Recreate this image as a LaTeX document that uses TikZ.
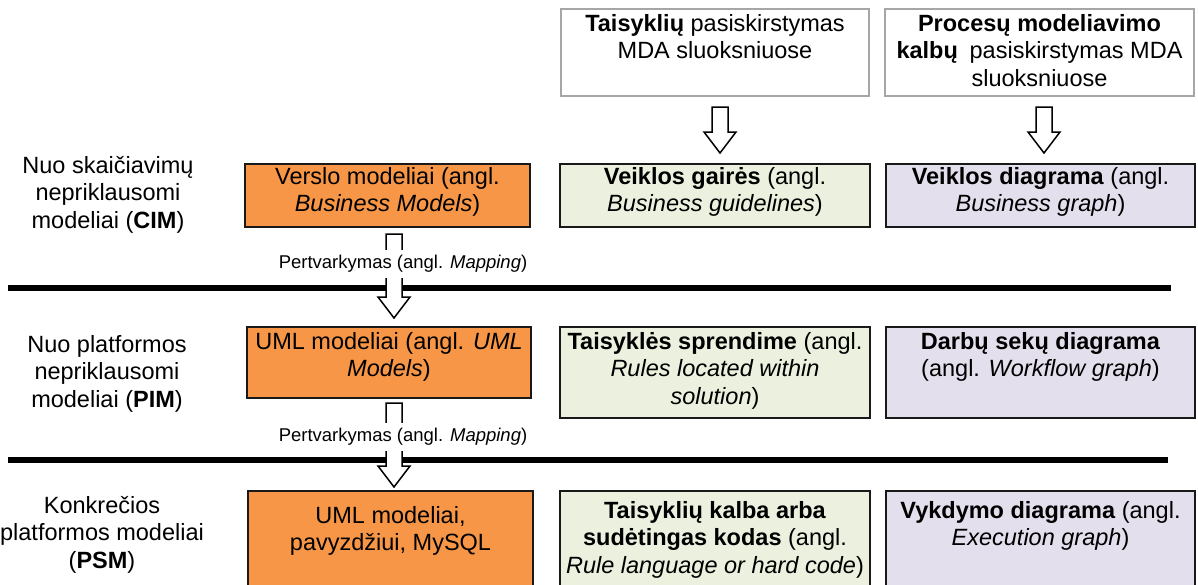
\documentclass[tikz,border=0pt]{standalone}
\usepackage{fontspec}
\setmainfont{Liberation Sans}
\usetikzlibrary{calc}

\definecolor{modelorange}{HTML}{F79646}
\definecolor{rulegreen}{HTML}{EBF1DE}
\definecolor{graphlilac}{HTML}{E4DFEC}
\definecolor{framegray}{HTML}{A6A6A6}

% hollow block arrow pointing down, from a start coordinate to a tip coordinate
\newcommand\blockdown[2]{%
  \draw[hollowarrow] let \p1=(#1), \p2=(#2) in
    (\x1-8pt,\y1) -- (\x1+8pt,\y1) -- (\x1+8pt,\y2+21pt) -- (\x1+16pt,\y2+21pt)
    -- (\x1,\y2) -- (\x1-16pt,\y2+21pt) -- (\x1-8pt,\y2+21pt) -- cycle;}

\begin{document}
\begin{tikzpicture}[x=1pt,y=-1pt,
  font=\fontsize{23.5}{27.5}\selectfont,
  box/.style={draw=black!90, line width=1.6pt, inner sep=0pt, outer sep=0pt},
  orangebox/.style={box, fill=modelorange},
  greenbox/.style={box, fill=rulegreen},
  lilacbox/.style={box, fill=graphlilac},
  framebox/.style={draw=framegray, line width=2pt, fill=white, inner sep=0pt},
  boxtext/.style={anchor=north, align=center, inner sep=0pt,
    execute at begin node=\strut, execute at end node=\strut},
  maplabel/.style={fill=white, inner xsep=2pt, inner ysep=5pt,
    font=\fontsize{18.5}{22}\selectfont},
  sepline/.style={line width=6pt},
  hollowarrow/.style={draw=black, fill=white, line width=1.5pt, line join=miter}]

\useasboundingbox (0,0) rectangle (1198,584);
\clip (0,0) rectangle (1198,584);

% layer separators
\coordinate (s1a) at (8,288);   \coordinate (s1b) at (1171,288);
\coordinate (s2a) at (8,460);   \coordinate (s2b) at (1168,460);
\draw[sepline] (s1a) -- (s1b);
\draw[sepline] (s2a) -- (s2b);

% header boxes
\node[framebox, minimum width=308pt, minimum height=87pt] (T1) at (715,52.5) {};
\node[framebox, minimum width=309pt, minimum height=87pt] (T2) at (1039.5,52.5) {};
\node[boxtext] (T1t) at (715,14) {\textbf{Taisyklių} pasiskirstymas\\MDA sluoksniuose};
\node[boxtext] (T2t) at (1039.5,14) {\textbf{Procesų modeliavimo}\\\textbf{kalbų}\hspace{0.5em}pasiskirstymas MDA\\sluoksniuose};

% layer titles
\node[boxtext] (L1) at (108,156) {Nuo skaičiavimų\\nepriklausomi\\modeliai (\textbf{CIM})};
\node[boxtext] (L2) at (107,335) {Nuo platformos\\nepriklausomi\\modeliai (\textbf{PIM})};
\node[boxtext] (L3) at (102,496) {Konkrečios\\platformos modeliai\\(\textbf{PSM})};

% CIM row
\node[orangebox, minimum width=285pt, minimum height=63pt] (O1) at (387.5,195.5) {};
\node[greenbox, minimum width=310pt, minimum height=63pt] (G1) at (715,195.5) {};
\node[lilacbox, minimum width=309pt, minimum height=63pt] (P1) at (1040.5,195.5) {};
\node[boxtext] (O1t) at (387.5,167) {Verslo modeliai (angl.\\\textit{Business Models})};
\node[boxtext] (G1t) at (715,167) {\textbf{Veiklos gairės} (angl.\\\textit{Business guidelines})};
\node[boxtext] (P1t) at (1040.5,167) {\textbf{Veiklos diagrama} (angl.\\\textit{Business graph})};

% PIM row
\node[orangebox, minimum width=284pt, minimum height=71pt] (O2) at (389,362.5) {};
\node[greenbox, minimum width=310pt, minimum height=91pt] (G2) at (715,372.5) {};
\node[lilacbox, minimum width=309pt, minimum height=91pt] (P2) at (1040.5,372.5) {};
\node[boxtext] (O2t) at (389,332) {UML modeliai (angl. \textit{UML}\\\textit{Models})};
\node[boxtext] (G2t) at (715,332) {\textbf{Taisyklės sprendime} (angl.\\\textit{Rules located within}\\\textit{solution})};
\node[boxtext] (P2t) at (1040.5,332) {\textbf{Darbų sekų diagrama}\\(angl. \textit{Workflow graph})};

% PSM row
\node[orangebox, minimum width=285pt, minimum height=109pt] (O3) at (390.5,545.5) {};
\node[greenbox, minimum width=310pt, minimum height=109pt] (G3) at (715,545.5) {};
\node[lilacbox, minimum width=309pt, minimum height=109pt] (P3) at (1040.5,545.5) {};
\node[boxtext] (O3t) at (390.5,506) {UML modeliai,\\pavyzdžiui, MySQL};
\node[boxtext] (G3t) at (715,501) {\textbf{Taisyklių kalba arba}\\\textbf{sudėtingas kodas} (angl.\\\textit{Rule language or hard code})};
\node[boxtext] (P3t) at (1040.5,501) {\textbf{Vykdymo diagrama} (angl.\\\textit{Execution graph})};

% arrows from the header boxes
\coordinate (a1s) at (720,107); \coordinate (a1e) at (720,153);
\coordinate (a2s) at (1044,107); \coordinate (a2e) at (1044,153);
\blockdown{a1s}{a1e}
\blockdown{a2s}{a2e}

% mapping arrows between layers
\coordinate (m1s) at (394,234); \coordinate (m1e) at (394,318);
\coordinate (m2s) at (394,403); \coordinate (m2e) at (394,487);
\blockdown{m1s}{m1e}
\blockdown{m2s}{m2e}
\node[maplabel] (map1) at (403,264) {Pertvarkymas (angl. \textit{Mapping})};
\node[maplabel] (map2) at (403,437) {Pertvarkymas (angl. \textit{Mapping})};

\end{tikzpicture}
\end{document}
